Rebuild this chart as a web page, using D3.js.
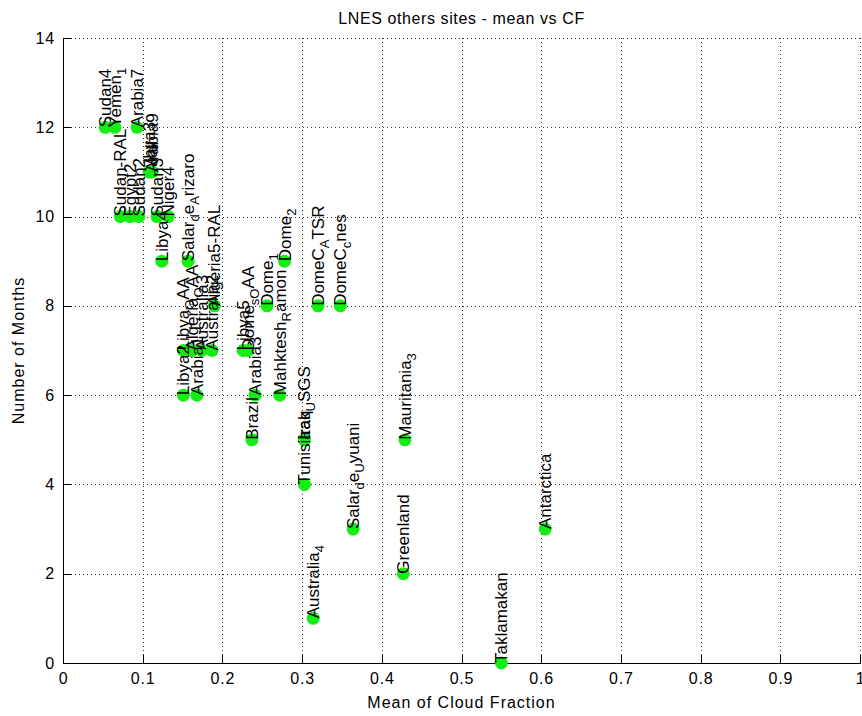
<!DOCTYPE html>
<html>
<head>
<meta charset="utf-8">
<script src="https://cdn.jsdelivr.net/npm/d3@7"></script>
<style>
  body { margin: 0; background: #fff; }
  text { font-family: "Liberation Sans", Arial, Helvetica, sans-serif; fill: #000; }
</style>
</head>
<body>
<svg id="chart" width="862" height="716"></svg>
<script>
// Site names ("_x" marks a one-character subscript, TeX style)
const siteNames = [
  "Sudan4", "Yemen_1", "Arabia7",
  "Libya3", "Mali", "Arabia9",
  "Sudan-RAL", "Egypt2", "Sudan2", "Sudan3", "Niger4",
  "Libya4", "Salar_de_Arizaro", "Dome_2",
  "Algeria5-RAL", "Dome_1", "DomeC_ATSR", "DomeC_cnes",
  "Libya_OAA", "Algeria_OAA", "Australia3", "Australia2", "Libya5", "Dome_s_OAA",
  "Libya2", "Arabia1", "Arabia3", "Mahktesh_Ramon",
  "Brazil", "Iraq", "Irak_USGS", "Mauritania_3",
  "Tunisia", "Salar_de_Uyuani", "Antarctica", "Greenland", "Australia_4", "Taklamakan"
];
// Mean of cloud fraction per site
const cloudFraction = [
  0.053, 0.065, 0.093,
  0.108, 0.110, 0.112,
  0.072, 0.084, 0.095, 0.118, 0.132,
  0.124, 0.157, 0.278,
  0.190, 0.256, 0.320, 0.348,
  0.151, 0.162, 0.174, 0.187, 0.226, 0.232,
  0.151, 0.168, 0.241, 0.272,
  0.237, 0.303, 0.303, 0.429,
  0.303, 0.364, 0.605, 0.427, 0.314, 0.550
];
// Number of months per site
const monthCount = [
  12, 12, 12,
  11, 11, 11,
  10, 10, 10, 10, 10,
  9, 9, 9,
  8, 8, 8, 8,
  7, 7, 7, 7, 7, 7,
  6, 6, 6, 6,
  5, 5, 5, 5,
  4, 3, 3, 2, 1, 0
];

const xTicks = [0, 0.1, 0.2, 0.3, 0.4, 0.5, 0.6, 0.7, 0.8, 0.9, 1];
const xTickLabels = ["0", "0.1", "0.2", "0.3", "0.4", "0.5", "0.6", "0.7", "0.8", "0.9", "1"];
const yTicks = [0, 2, 4, 6, 8, 10, 12, 14];
const yTickLabels = ["0", "2", "4", "6", "8", "10", "12", "14"];

const chartTitle = "LNES others sites - mean vs CF";
const xTitle = "Mean of Cloud Fraction";
const yTitle = "Number of Months";

const svg = d3.select("#chart");
const plotL = 63, plotR = 860, plotT = 38, plotB = 663;

const x = d3.scaleLinear().domain([0, 1]).range([plotL, plotR]);
const y = d3.scaleLinear().domain([0, 14]).range([plotB, plotT]);

// dotted grid
const grid = svg.append("g").attr("stroke", "#333").attr("stroke-width", 1)
  .attr("stroke-dasharray", "1,3").attr("shape-rendering", "crispEdges");
grid.selectAll("line.gx").data(xTicks.slice(1)).join("line")
  .attr("x1", d => Math.round(x(d)) + 0.5).attr("x2", d => Math.round(x(d)) + 0.5)
  .attr("y1", plotT).attr("y2", plotB);
grid.selectAll("line.gy").data(yTicks.slice(1)).join("line")
  .attr("x1", plotL).attr("x2", plotR)
  .attr("y1", d => Math.round(y(d)) + 0.5).attr("y2", d => Math.round(y(d)) + 0.5);

// axes with inward ticks
const xAxis = d3.axisBottom(x).tickValues(xTicks)
  .tickFormat((d, i) => xTickLabels[i]).tickSizeInner(-8).tickSizeOuter(0).tickPadding(10);
const yAxis = d3.axisLeft(y).tickValues(yTicks)
  .tickFormat((d, i) => yTickLabels[i]).tickSizeInner(-8).tickSizeOuter(0).tickPadding(8);

const gx = svg.append("g").attr("transform", `translate(0,${plotB})`).call(xAxis);
const gy = svg.append("g").attr("transform", `translate(${plotL},0)`).call(yAxis);
[gx, gy].forEach(g => {
  g.selectAll("path, line").attr("stroke", "#000").attr("shape-rendering", "crispEdges");
  g.selectAll("text").attr("font-size", 16).attr("letter-spacing", 0.8)
    .attr("font-family", "'Liberation Sans', Arial, sans-serif").attr("fill", "#000");
});

// titles
svg.append("text").attr("x", (plotL + plotR) / 2).attr("y", 24)
  .attr("text-anchor", "middle").attr("font-size", 16).attr("letter-spacing", 0.6).text(chartTitle);
svg.append("text").attr("x", (plotL + plotR) / 2).attr("y", 708)
  .attr("text-anchor", "middle").attr("font-size", 16).attr("letter-spacing", 1).text(xTitle);
svg.append("text").attr("transform", `translate(24,${(plotT + plotB) / 2}) rotate(-90)`)
  .attr("text-anchor", "middle").attr("font-size", 16).attr("letter-spacing", 1).text(yTitle);

// split "_x" subscripts into pieces
function pieces(name) {
  const out = [];
  let buf = "";
  for (let i = 0; i < name.length; i++) {
    if (name[i] === "_" && i + 1 < name.length) {
      if (buf) out.push({ t: buf, sub: false });
      buf = "";
      out.push({ t: name[i + 1], sub: true });
      i++;
    } else buf += name[i];
  }
  if (buf) out.push({ t: buf, sub: false });
  return out;
}

const sites = siteNames.map((n, i) => ({ name: n, cf: cloudFraction[i], m: monthCount[i] }));
const marks = svg.append("g");
sites.forEach(s => {
  const px = x(s.cf), py = y(s.m);
  marks.append("circle").attr("cx", px).attr("cy", py).attr("r", 6.5).attr("fill", "#14ee14");
  const t = marks.append("text")
    .attr("transform", `translate(${px},${py}) rotate(-90)`)
    .attr("font-size", 17);
  let shifted = false;
  pieces(s.name).forEach((p, k) => {
    const ts = t.append("tspan").text(p.t);
    let dy = k === 0 ? 6 : 0;
    if (p.sub && !shifted) { dy += 5; shifted = true; }
    else if (!p.sub && shifted) { dy -= 5; shifted = false; }
    if (dy) ts.attr("dy", dy);
    if (p.sub) ts.attr("font-size", 13);
  });
});
</script>
</body>
</html>
